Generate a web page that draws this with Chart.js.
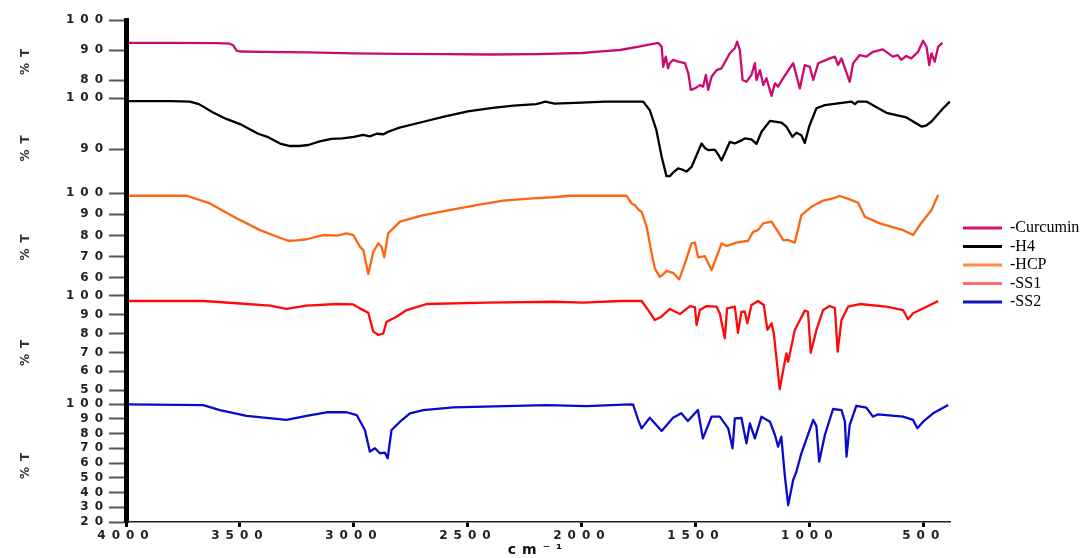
<!DOCTYPE html>
<html><head><meta charset="utf-8">
<script src="https://cdn.jsdelivr.net/npm/chart.js@4.4.1/dist/chart.umd.min.js"></script>
<style>html,body{margin:0;padding:0;background:#fff;}canvas{display:block;}</style>
</head><body>
<canvas id="c" width="1091" height="558"></canvas>
<script>
// ---- data: [wavenumber cm-1, %T] ----
const SERIES_NAMES = ['-Curcumin', '-H4', '-HCP', '-SS1', '-SS2'];
const CURCUMIN = [[4000,92.4],[3800,92.4],[3600,92.3],[3545,92.1],[3530,91.6],[3515,89.8],[3500,89.5],[3400,89.4],[3200,89.2],[3000,88.9],[2800,88.7],[2600,88.6],[2400,88.5],[2200,88.6],[2000,89.0],[1900,89.6],[1833,90.0],[1750,91.1],[1665,92.4],[1650,91.1],[1643,84.4],[1632,87.8],[1622,83.9],[1614,85.6],[1600,86.7],[1578,86.1],[1548,85.6],[1533,82.2],[1522,76.7],[1504,77.2],[1482,78.3],[1468,77.8],[1456,81.7],[1446,76.7],[1431,81.1],[1409,83.3],[1387,83.9],[1351,88.9],[1329,90.6],[1319,92.8],[1307,90.0],[1295,80.0],[1278,79.4],[1256,81.7],[1241,85.6],[1234,80.0],[1219,83.3],[1204,78.3],[1190,80.6],[1168,74.7],[1153,78.9],[1139,77.8],[1117,80.6],[1073,85.6],[1044,77.2],[1022,85.0],[1000,84.4],[985,80.0],[963,85.6],[912,87.2],[890,87.8],[876,85.0],[861,87.2],[825,79.4],[810,85.6],[781,88.3],[752,87.8],[723,89.4],[680,90.2],[636,87.8],[614,88.3],[599,86.7],[577,88.0],[555,87.2],[525,89.4],[503,93.1],[488,91.1],[476,85.0],[466,88.9],[452,86.1],[437,91.1],[418,92.4]];
const H4 = [[4000,99.4],[3800,99.4],[3720,99.3],[3680,98.8],[3620,97.2],[3560,95.9],[3500,94.9],[3420,93.0],[3380,92.4],[3320,91.0],[3280,90.6],[3240,90.6],[3200,90.8],[3150,91.5],[3100,92.0],[3050,92.1],[3000,92.4],[2960,92.8],[2930,92.5],[2900,93.0],[2870,92.9],[2850,93.4],[2800,94.2],[2700,95.3],[2600,96.4],[2500,97.4],[2400,98.0],[2300,98.5],[2200,98.8],[2160,99.3],[2120,98.9],[2000,99.1],[1900,99.3],[1833,99.3],[1731,99.3],[1702,97.6],[1673,93.7],[1650,88.5],[1629,84.7],[1614,84.7],[1595,85.6],[1578,86.2],[1560,86.0],[1541,85.6],[1519,86.5],[1475,91.1],[1460,90.2],[1446,89.8],[1417,89.9],[1400,88.8],[1387,87.8],[1351,91.4],[1329,91.1],[1300,91.7],[1285,92.1],[1256,91.9],[1234,91.0],[1212,93.4],[1175,95.5],[1125,95.2],[1103,94.4],[1076,92.4],[1059,93.2],[1037,92.7],[1022,91.2],[1003,94.4],[971,98.0],[934,98.6],[868,99.0],[817,99.3],[802,98.8],[790,99.3],[752,99.3],[664,97.1],[576,96.2],[510,94.4],[490,94.6],[466,95.4],[415,98.0],[386,99.3]];
const HCP = [[4000,98.7],[3734,98.7],[3632,95.1],[3515,88.1],[3412,82.5],[3340,79.5],[3289,77.5],[3250,77.7],[3208,78.2],[3135,80.2],[3076,79.9],[3032,81.0],[3003,80.2],[2974,74.7],[2959,73.1],[2937,61.8],[2915,72.3],[2893,76.3],[2879,74.7],[2867,69.7],[2850,81.0],[2798,86.5],[2700,89.5],[2564,92.3],[2450,94.5],[2345,96.4],[2200,97.6],[2126,98.0],[2053,98.7],[1804,98.7],[1782,95.1],[1768,94.3],[1750,92.0],[1738,91.2],[1716,84.1],[1694,71.6],[1680,64.5],[1658,60.5],[1645,61.5],[1629,63.3],[1600,62.4],[1573,59.3],[1548,66.8],[1519,76.3],[1504,76.6],[1490,69.7],[1461,70.3],[1431,63.7],[1387,76.3],[1366,75.0],[1322,76.6],[1271,77.5],[1249,81.7],[1227,82.5],[1205,85.7],[1168,86.5],[1139,81.7],[1117,77.8],[1095,77.8],[1066,76.6],[1037,89.6],[993,93.5],[971,94.8],[942,96.4],[898,97.5],[868,98.6],[825,97.0],[788,95.4],[759,88.8],[693,85.7],[591,82.5],[547,80.2],[518,84.9],[466,92.0],[437,99.1]];
const SS1 = [[4000,97.2],[3661,97.2],[3515,96.0],[3368,94.7],[3296,93.0],[3208,94.7],[3076,95.6],[3003,95.4],[2974,93.3],[2937,91.0],[2915,81.0],[2893,79.2],[2871,80.1],[2857,86.2],[2813,88.9],[2769,92.4],[2711,94.5],[2681,95.6],[2418,96.3],[2126,96.8],[1994,96.3],[1833,97.2],[1738,97.2],[1709,92.4],[1680,87.1],[1651,88.9],[1614,93.0],[1570,90.3],[1526,94.5],[1504,94.0],[1497,84.5],[1482,92.4],[1453,94.5],[1409,94.2],[1395,90.7],[1373,77.5],[1363,93.3],[1329,94.2],[1315,80.4],[1300,91.5],[1285,91.5],[1274,85.4],[1256,95.1],[1227,97.2],[1202,95.1],[1186,81.9],[1168,85.4],[1158,80.1],[1132,50.6],[1103,69.5],[1095,65.1],[1066,81.9],[1022,92.1],[1008,91.5],[996,69.8],[971,81.9],[942,92.4],[912,94.5],[890,93.5],[878,70.4],[861,87.1],[832,94.2],[781,95.6],[664,94.2],[591,92.4],[569,87.5],[547,90.7],[488,94.2],[437,97.2]];
const SS2 = [[4000,99.8],[3661,99.3],[3588,95.9],[3471,91.9],[3296,89.2],[3208,91.9],[3120,94.4],[3032,94.4],[2988,92.5],[2952,82.4],[2930,67.7],[2908,70.0],[2886,66.6],[2864,67.0],[2852,63.2],[2835,82.4],[2798,88.0],[2754,93.7],[2696,95.9],[2564,97.7],[2155,99.3],[1980,98.6],[1789,99.8],[1775,99.5],[1753,89.2],[1738,83.5],[1702,90.7],[1650,81.7],[1600,90.7],[1564,93.7],[1535,88.5],[1491,95.9],[1469,76.7],[1431,91.4],[1395,91.4],[1358,83.5],[1339,70.0],[1329,90.3],[1300,90.5],[1278,73.3],[1263,86.9],[1241,76.7],[1212,91.4],[1175,88.0],[1153,79.0],[1139,71.1],[1125,77.8],[1110,51.9],[1095,31.5],[1073,48.5],[1059,54.1],[1037,66.6],[985,89.2],[971,85.0],[959,60.9],[934,79.0],[898,96.6],[861,95.9],[846,88.0],[839,64.3],[825,85.8],[796,98.8],[752,97.5],[723,91.4],[701,93.0],[591,91.4],[547,89.2],[528,83.5],[503,88.0],[459,93.7],[393,99.3]];

const X_TICKS = [4000, 3500, 3000, 2500, 2000, 1500, 1000, 500];
const TICKS_CURCUMIN = [80, 90, 100];
const TICKS_H4 = [90, 100];
const TICKS_HCP = [60, 70, 80, 90, 100];
const TICKS_SS1 = [50, 60, 70, 80, 90, 100];
const TICKS_SS2 = [20, 30, 40, 50, 60, 70, 80, 90, 100];

const LINE_COLORS = ['#CC0A6E', '#000000', '#FF6510', '#FF0A0A', '#0A0ACC'];
const LEGEND_COLORS = ['#D01470', '#000000', '#FF8A40', '#FF6A6A', '#1515B5'];

const SERIES = [CURCUMIN, H4, HCP, SS1, SS2];
const AXIS_IDS = ['yC', 'yH', 'yP', 'yS1', 'yS2'];

const datasets = SERIES.map((s, i) => ({
  label: SERIES_NAMES[i],
  data: s.map(p => ({x: p[0], y: p[1]})),
  yAxisID: AXIS_IDS[i],
  borderColor: LINE_COLORS[i],
  backgroundColor: LINE_COLORS[i],
  borderWidth: 2.3,
  pointRadius: 0,
  tension: 0,
  borderJoinStyle: 'round',
  clip: false
}));

const tickFont = {family: 'DejaVu Sans', weight: 'bold', size: 12};
function yAxis(ticks, min, weight) {
  return {
    type: 'linear', position: 'left', stack: 'ir', stackWeight: weight,
    min: min, max: 100,
    border: {display: true, color: '#000', width: 5, z: 1},
    grid: {display: true, drawOnChartArea: false, drawTicks: true, tickLength: 17, tickWidth: 2, tickColor: '#555', z: 1},
    ticks: {font: tickFont, color: '#222', padding: 0, z: 1, autoSkip: false, callback: v => String(v)},
    title: {display: true, text: '%T', font: {family: 'DejaVu Sans', weight: 'bold', size: 12}, color: '#333', padding: {top: 19, bottom: 0}},
    afterFit: s => { s.width = 126; },
    afterBuildTicks: s => { s.ticks = ticks.map(v => ({value: v})); }
  };
}

const spacingPlugin = {
  id: 'spacing',
  beforeDraw(chart) { chart.ctx.letterSpacing = '0px'; },
  afterDatasetsDraw(chart) { chart.ctx.letterSpacing = '6px'; },
  afterDraw(chart) { chart.ctx.letterSpacing = '0px'; },
  afterLayout(chart) {
    const lg = chart.legend;
    if (lg) { lg.left += 10.5; lg.right += 40; lg.top -= 24; lg.bottom -= 24; }
  }
};

new Chart(document.getElementById('c'), {
  type: 'line',
  data: {datasets},
  plugins: [spacingPlugin],
  options: {
    responsive: false,
    animation: false,
    devicePixelRatio: 1,
    layout: {padding: {left: 0, top: 20, right: 31, bottom: 0}},
    plugins: {
      tooltip: {enabled: false},
      legend: {
        display: true, position: 'right', align: 'center', maxWidth: 110,
        labels: {
          font: {family: 'Liberation Serif', size: 16}, color: '#000',
          boxWidth: 39, boxHeight: 3, padding: 2.5,
          generateLabels: chart => chart.data.datasets.map((ds, i) => ({
            text: ds.label, fillStyle: LEGEND_COLORS[i], strokeStyle: LEGEND_COLORS[i],
            lineWidth: 0, hidden: false, datasetIndex: i, fontColor: '#000'
          }))
        }
      }
    },
    scales: {
      x: {
        type: 'linear', reverse: true, min: 385, max: 4000, position: 'bottom',
        border: {display: true, color: '#222', width: 1.5, z: 1},
        grid: {display: true, drawOnChartArea: false, tickLength: 5, tickWidth: 3, tickColor: '#000', z: 1},
        ticks: {font: {family: 'DejaVu Sans', weight: 'bold', size: 12}, color: '#222', padding: 2, z: 1, maxRotation: 0, autoSkip: false, callback: v => String(v)},
        title: {display: true, text: 'cm⁻¹', font: {family: 'DejaVu Sans', weight: 'bold', size: 14}, color: '#111', padding: {top: 0, bottom: -1}},
        afterFit: s => { s.height = 36; },
        afterBuildTicks: s => { s.ticks = X_TICKS.map(v => ({value: v})); }
      },
      yS2: yAxis(TICKS_SS2, 20, 118),
      yS1: yAxis(TICKS_SS1, 42.7, 108.3),
      yP: yAxis(TICKS_HCP, 51.6, 102.7),
      yH: yAxis(TICKS_H4, 81.4, 95),
      yC: yAxis(TICKS_CURCUMIN, 74, 78)
    }
  }
});
</script>
</body></html>
